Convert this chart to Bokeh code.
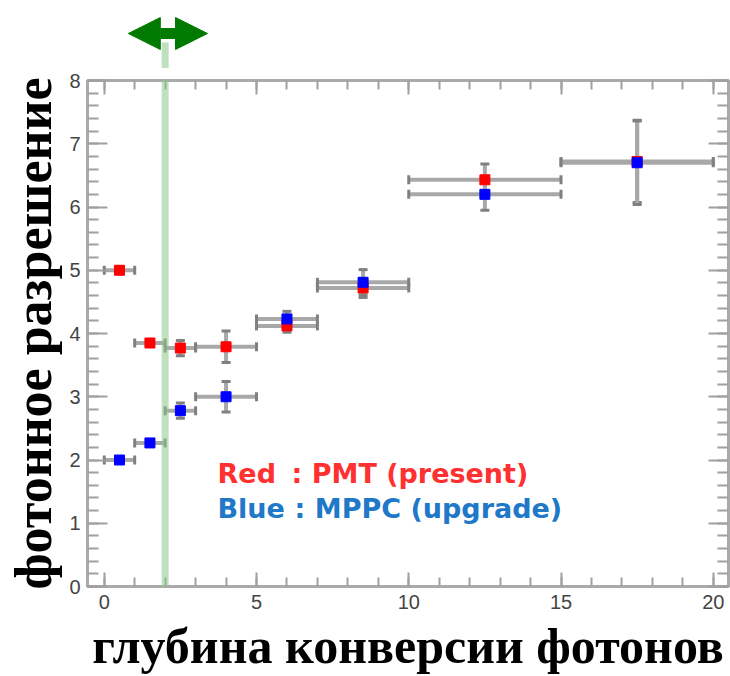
from bokeh.plotting import figure
from bokeh.layouts import column
from bokeh.models import (ColumnDataSource, Range1d, LinearAxis, SingleIntervalTicker,
                          Whisker, TeeHead, Arrow, NormalHead, Label, BoxAnnotation)
from bokeh.embed import file_html
from bokeh.resources import INLINE

# ---- data ----
depth = [0.5, 1.5, 2.5, 4.0, 6.0, 8.5, 12.5, 17.5]
depth_lo = [0, 1, 2, 3, 5, 7, 10, 15]
depth_hi = [1, 2, 3, 5, 7, 10, 15, 20]
pmt_res = [5.0, 3.85, 3.77, 3.79, 4.12, 4.72, 6.43, 6.72]
pmt_err = [0.05, 0.05, 0.12, 0.25, 0.10, 0.15, 0.25, 0.65]
mppc_res = [2.0, 2.27, 2.78, 3.0, 4.23, 4.81, 6.2, 6.7]
mppc_err = [0.05, 0.05, 0.12, 0.24, 0.12, 0.20, 0.25, 0.66]
marker_depth = 2.0
arrow_span = [0.79, 3.39]
legend_names = ["Red", "Blue"]
legend_desc = [": PMT (present)", ": MPPC (upgrade)"]
x_label = "глубина конверсии фотонов"
y_label = "фотонное разрешение"

XR = Range1d(-0.55, 20.5)
GREEN_LINE = dict(fill_color="#8cc88c", fill_alpha=0.55, line_color=None)
HALF_W = 0.115  # half width of the green line in x units

# ---- strip above the frame: green arrow ----
top_fig = figure(width=730, height=68, output_backend="svg", toolbar_location=None,
                 x_range=XR, y_range=Range1d(0, 68),
                 x_axis_location=None, y_axis_location=None,
                 min_border_left=87, min_border_right=2, min_border_top=0, min_border_bottom=0,
                 background_fill_color="white", border_fill_color="white")
top_fig.grid.visible = False
top_fig.outline_line_color = None
top_fig.add_layout(BoxAnnotation(left=marker_depth - HALF_W, right=marker_depth + HALF_W,
                                 bottom=-10, top=26, **GREEN_LINE))
top_fig.add_layout(Arrow(x_start=arrow_span[0], y_start=35, x_end=arrow_span[1], y_end=35,
                         line_color="#007a00", line_width=11,
                         start=NormalHead(size=32, fill_color="#007a00", line_color="#007a00"),
                         end=NormalHead(size=32, fill_color="#007a00", line_color="#007a00")))

# ---- main plot ----
p = figure(width=730, height=608, output_backend="svg", toolbar_location=None,
           x_range=XR, y_range=Range1d(0, 8),
           min_border_left=87, min_border_right=2, min_border_top=12, min_border_bottom=87,
           background_fill_color="white", border_fill_color="white")
p.grid.visible = False
p.outline_line_color = "#aaaaaa"
p.outline_line_width = 3

bottom = p.xaxis[0]
left = p.yaxis[0]

TICK = "#a0a0a0"
def style_axis(ax, interval, tin, min_in, labels=True):
    ax.ticker = SingleIntervalTicker(interval=interval, num_minor_ticks=5)
    ax.axis_line_color = None
    ax.major_tick_in = tin
    ax.major_tick_out = 0
    ax.minor_tick_in = min_in
    ax.minor_tick_out = 0
    ax.major_tick_line_color = TICK
    ax.minor_tick_line_color = TICK
    ax.major_tick_line_width = 2
    ax.minor_tick_line_width = 2
    if labels:
        ax.major_label_text_font = "Liberation Sans"
        ax.major_label_text_font_size = "20px"
        ax.major_label_text_color = "#444444"
    else:
        ax.major_label_text_color = None
        ax.major_label_text_font_size = "1px"
        ax.major_label_standoff = 0

style_axis(bottom, 5, 14, 9)
style_axis(left, 1, 20, 11)
bottom.major_label_standoff = 8
left.major_label_standoff = 7

top = LinearAxis()
style_axis(top, 5, 14, 9, labels=False)
p.add_layout(top, "above")
right = LinearAxis()
style_axis(right, 1, 20, 11, labels=False)
p.add_layout(right, "right")

for ax, txt in ((bottom, x_label), (left, y_label)):
    ax.axis_label = txt
    ax.axis_label_text_font = "Liberation Serif"
    ax.axis_label_text_font_style = "bold"
    ax.axis_label_text_color = "black"
bottom.axis_label_text_font_size = "50px"
left.axis_label_text_font_size = "52px"
bottom.axis_label_standoff = 6
left.axis_label_standoff = 4

def series(res, err):
    src = ColumnDataSource(dict(x=depth, xlo=depth_lo, xhi=depth_hi, y=res,
                                ylo=[r - e for r, e in zip(res, err)],
                                yhi=[r + e for r, e in zip(res, err)]))
    for dim, base, lo, hi in (("width", "y", "xlo", "xhi"), ("height", "x", "ylo", "yhi")):
        w = Whisker(source=src, base=base, lower=lo, upper=hi, dimension=dim,
                    line_color="#a8a8a8", line_width=4,
                    upper_head=TeeHead(size=9, line_color="#808080", line_width=3),
                    lower_head=TeeHead(size=9, line_color="#808080", line_width=3))
        p.add_layout(w)
    return src

src_r = series(pmt_res, pmt_err)
src_b = series(mppc_res, mppc_err)
p.scatter("x", "y", source=src_r, marker="square", size=10, fill_color="#ff0000", line_color="#ff0000")
p.scatter("x", "y", source=src_b, marker="square", size=10, fill_color="#0000ff", line_color="#0000ff")

# green line; its top runs past the frame into the border strip
p.add_layout(BoxAnnotation(left=marker_depth - HALF_W, right=marker_depth + HALF_W,
                           bottom=0, top=8.3, **GREEN_LINE))

legend_colors = ["#ff3030", "#2078c8"]
name_x = [3.72, 3.72]
desc_x = [6.15, 6.25]
leg_y = [1.79, 1.24]
for i in range(2):
    for xx, t in ((name_x[i], legend_names[i]), (desc_x[i], legend_desc[i])):
        p.add_layout(Label(x=xx, y=leg_y[i], text=t, text_color=legend_colors[i],
                           text_font="DejaVu Sans", text_font_size="27px",
                           text_font_style="bold", text_baseline="alphabetic"))

layout = column(top_fig, p, spacing=0)
open("out.html", "w").write(file_html(layout, INLINE))
